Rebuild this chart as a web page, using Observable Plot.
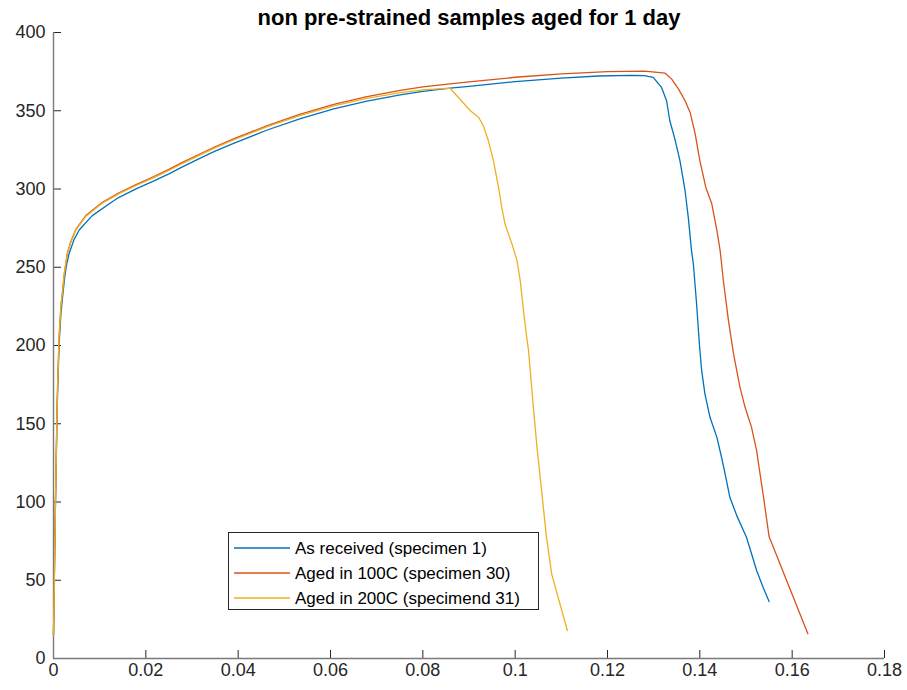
<!DOCTYPE html>
<html>
<head>
<meta charset="utf-8">
<script src="https://cdn.jsdelivr.net/npm/d3@7"></script>
<script src="https://cdn.jsdelivr.net/npm/@observablehq/plot@0.6"></script>
<style>
  html, body { margin: 0; padding: 0; background: #fff; }
  #chart { width: 907px; height: 690px; }
</style>
</head>
<body>
<div id="chart"></div>
<script>
const chartTitle = "non pre-strained samples aged for 1 day";
const seriesNames = ["As received (specimen 1)", "Aged in 100C (specimen 30)", "Aged in 200C (specimend 31)"];
const seriesColors = ["#0072BD", "#D95319", "#EDB120"];

const xTicks = [0, 0.02, 0.04, 0.06, 0.08, 0.1, 0.12, 0.14, 0.16, 0.18];
const xTickLabels = ["0", "0.02", "0.04", "0.06", "0.08", "0.1", "0.12", "0.14", "0.16", "0.18"];
const yTicks = [0, 50, 100, 150, 200, 250, 300, 350, 400];

// As received (specimen 1)
const asReceivedStrain = [0, 0.0004, 0.0008, 0.0012, 0.0016, 0.002, 0.0024, 0.0028, 0.0034, 0.0045, 0.0056, 0.0084, 0.0128, 0.0142, 0.018, 0.0214, 0.025, 0.0276, 0.0318, 0.035, 0.039, 0.0463, 0.0535, 0.0607, 0.0679, 0.0751, 0.08, 0.0859, 0.09, 0.1, 0.11, 0.118, 0.125, 0.128, 0.1299, 0.1317, 0.1328, 0.1335, 0.1346, 0.1357, 0.1368, 0.1375, 0.1382, 0.1386, 0.1393, 0.1399, 0.1404, 0.1411, 0.1422, 0.1437, 0.1447, 0.1457, 0.1465, 0.148, 0.1501, 0.1512, 0.1523, 0.1537, 0.155];
const asReceivedStress = [15, 95, 160, 200, 220, 232, 243, 251, 259, 268, 274, 283, 292, 294.7, 300.2, 304.7, 309.7, 313.7, 319.7, 324.2, 329.2, 337.7, 345, 351.2, 356.2, 360.2, 362.4, 364.4, 365.6, 368.6, 370.9, 372.2, 372.6, 372.4, 371.3, 364.9, 356.4, 343.6, 331.9, 318, 298.9, 281.9, 260.6, 252.1, 226.5, 201, 183.9, 169.1, 154.1, 141.3, 128.6, 114.8, 103, 91.3, 77.5, 66.9, 56.2, 45.5, 36.4];

// Aged in 100C (specimen 30)
const aged100Strain = [0, 0.0004, 0.0008, 0.0012, 0.0016, 0.0019, 0.0023, 0.0026, 0.003, 0.0037, 0.0048, 0.007, 0.0106, 0.0142, 0.018, 0.0214, 0.025, 0.0276, 0.0318, 0.035, 0.039, 0.0463, 0.0535, 0.0607, 0.0679, 0.0751, 0.08, 0.0859, 0.09, 0.1, 0.11, 0.12, 0.128, 0.1325, 0.1339, 0.1354, 0.1368, 0.1379, 0.139, 0.14, 0.1413, 0.1426, 0.1437, 0.1444, 0.1451, 0.1462, 0.1473, 0.1487, 0.1498, 0.1512, 0.1523, 0.1532, 0.1537, 0.155, 0.1634];
const aged100Stress = [15, 95, 165, 205, 225, 233, 245, 251, 259, 266, 274, 283, 291.5, 297.5, 303, 307.5, 312.5, 316.5, 322.5, 327, 332, 340.5, 347.8, 354, 359, 363, 365.2, 367.2, 368.4, 371.4, 373.6, 375, 375.3, 374, 370.2, 363.8, 356.4, 348.9, 335.1, 318.1, 301, 290.4, 273.4, 260.6, 241.4, 215.9, 194.6, 173.3, 160.5, 147.7, 132.8, 114.8, 105.2, 77.9, 15.8];

// Aged in 200C (specimend 31)
const aged200Strain = [0, 0.0004, 0.0008, 0.0012, 0.0016, 0.0019, 0.0023, 0.0026, 0.003, 0.0037, 0.0048, 0.007, 0.0106, 0.0142, 0.018, 0.0214, 0.025, 0.0276, 0.0318, 0.035, 0.039, 0.0463, 0.0535, 0.0607, 0.0679, 0.0751, 0.08, 0.0859, 0.0877, 0.0903, 0.0921, 0.0931, 0.0942, 0.0953, 0.0964, 0.0971, 0.0978, 0.0993, 0.1004, 0.1011, 0.1018, 0.1025, 0.1029, 0.104, 0.1048, 0.1058, 0.1067, 0.1079, 0.1113];
const aged200Stress = [15, 95, 165, 205, 225, 233, 245, 251, 258.5, 265.5, 273.5, 282.5, 291, 297, 302.4, 306.8, 311.8, 315.8, 321.8, 326.3, 331.3, 339.8, 347, 353.1, 357.9, 361.6, 363.4, 364.4, 358.5, 350, 345.7, 340.4, 330.8, 318, 301, 288.2, 277.6, 264.9, 254.2, 241.4, 222.3, 205.2, 196.7, 158.4, 132.8, 105.2, 79.6, 54.1, 17.9];

const strains = [asReceivedStrain, aged100Strain, aged200Strain];
const stresses = [asReceivedStress, aged100Stress, aged200Stress];
const rows = [];
seriesNames.forEach((name, s) => {
  strains[s].forEach((x, i) => rows.push({series: name, strain: x, stress: stresses[s][i]}));
});

const W = 907, H = 690;
const mL = 53, mR = 23, mT = 32, mB = 32;
const frameW = W - mL - mR, frameH = H - mT - mB;
const ink = "#262626";
const font = "'Liberation Sans', Arial, Helvetica, sans-serif";

const plot = Plot.plot({
  width: W,
  height: H,
  marginLeft: mL,
  marginRight: mR,
  marginTop: mT,
  marginBottom: mB,
  style: {fontFamily: font, color: ink, background: "#fff", overflow: "visible"},
  x: {domain: [0, 0.18]},
  y: {domain: [0, 400]},
  color: {domain: seriesNames, range: seriesColors},
  marks: [
    Plot.axisX({ticks: xTicks, tickFormat: (d) => xTickLabels[xTicks.indexOf(d)], tickSize: 0, tickPadding: 5, fontSize: 18, fill: ink, label: null}),
    Plot.axisY({ticks: yTicks, tickFormat: (d) => String(d), tickSize: 0, tickPadding: 8, fontSize: 18, fill: ink, label: null}),
    Plot.tickX(xTicks, {x: (d) => d, stroke: ink, strokeWidth: 1, insetTop: frameH - 8}),
    Plot.tickY(yTicks, {y: (d) => d, stroke: ink, strokeWidth: 1, insetRight: frameW - 8}),
    Plot.ruleY([0], {stroke: "#7a7a7a", strokeWidth: 1.4}),
    Plot.ruleX([0], {stroke: "#7a7a7a", strokeWidth: 1.4}),
    Plot.line(rows, {x: "strain", y: "stress", z: "series", stroke: "series", strokeWidth: 1.3, curve: "linear"}),
    Plot.text([chartTitle], {frameAnchor: "top", lineAnchor: "middle", dy: -15, text: (d) => d, fontSize: 22, fontWeight: "bold", fill: "#000"})
  ]
});

// Legend box (MATLAB style), inside the axes
const svg = d3.select(plot);
const lg = svg.append("g").attr("font-family", font).attr("font-size", 17).attr("text-anchor", "start");
const lx = 228, ly = 532, lw = 310, lh = 77;
lg.append("rect").attr("x", lx + 0.5).attr("y", ly + 0.5).attr("width", lw).attr("height", lh)
  .attr("fill", "#fff").attr("stroke", ink).attr("stroke-width", 1);
seriesNames.forEach((name, i) => {
  const yy = ly + 16 + i * 25;
  lg.append("line").attr("x1", lx + 6).attr("x2", lx + 62).attr("y1", yy).attr("y2", yy)
    .attr("stroke", seriesColors[i]).attr("stroke-width", 1.3);
  lg.append("text").attr("x", lx + 67).attr("y", yy).attr("dy", "0.36em").attr("text-anchor", "start").attr("fill", "#000").text(name);
});

document.getElementById("chart").appendChild(plot);
</script>
</body>
</html>
